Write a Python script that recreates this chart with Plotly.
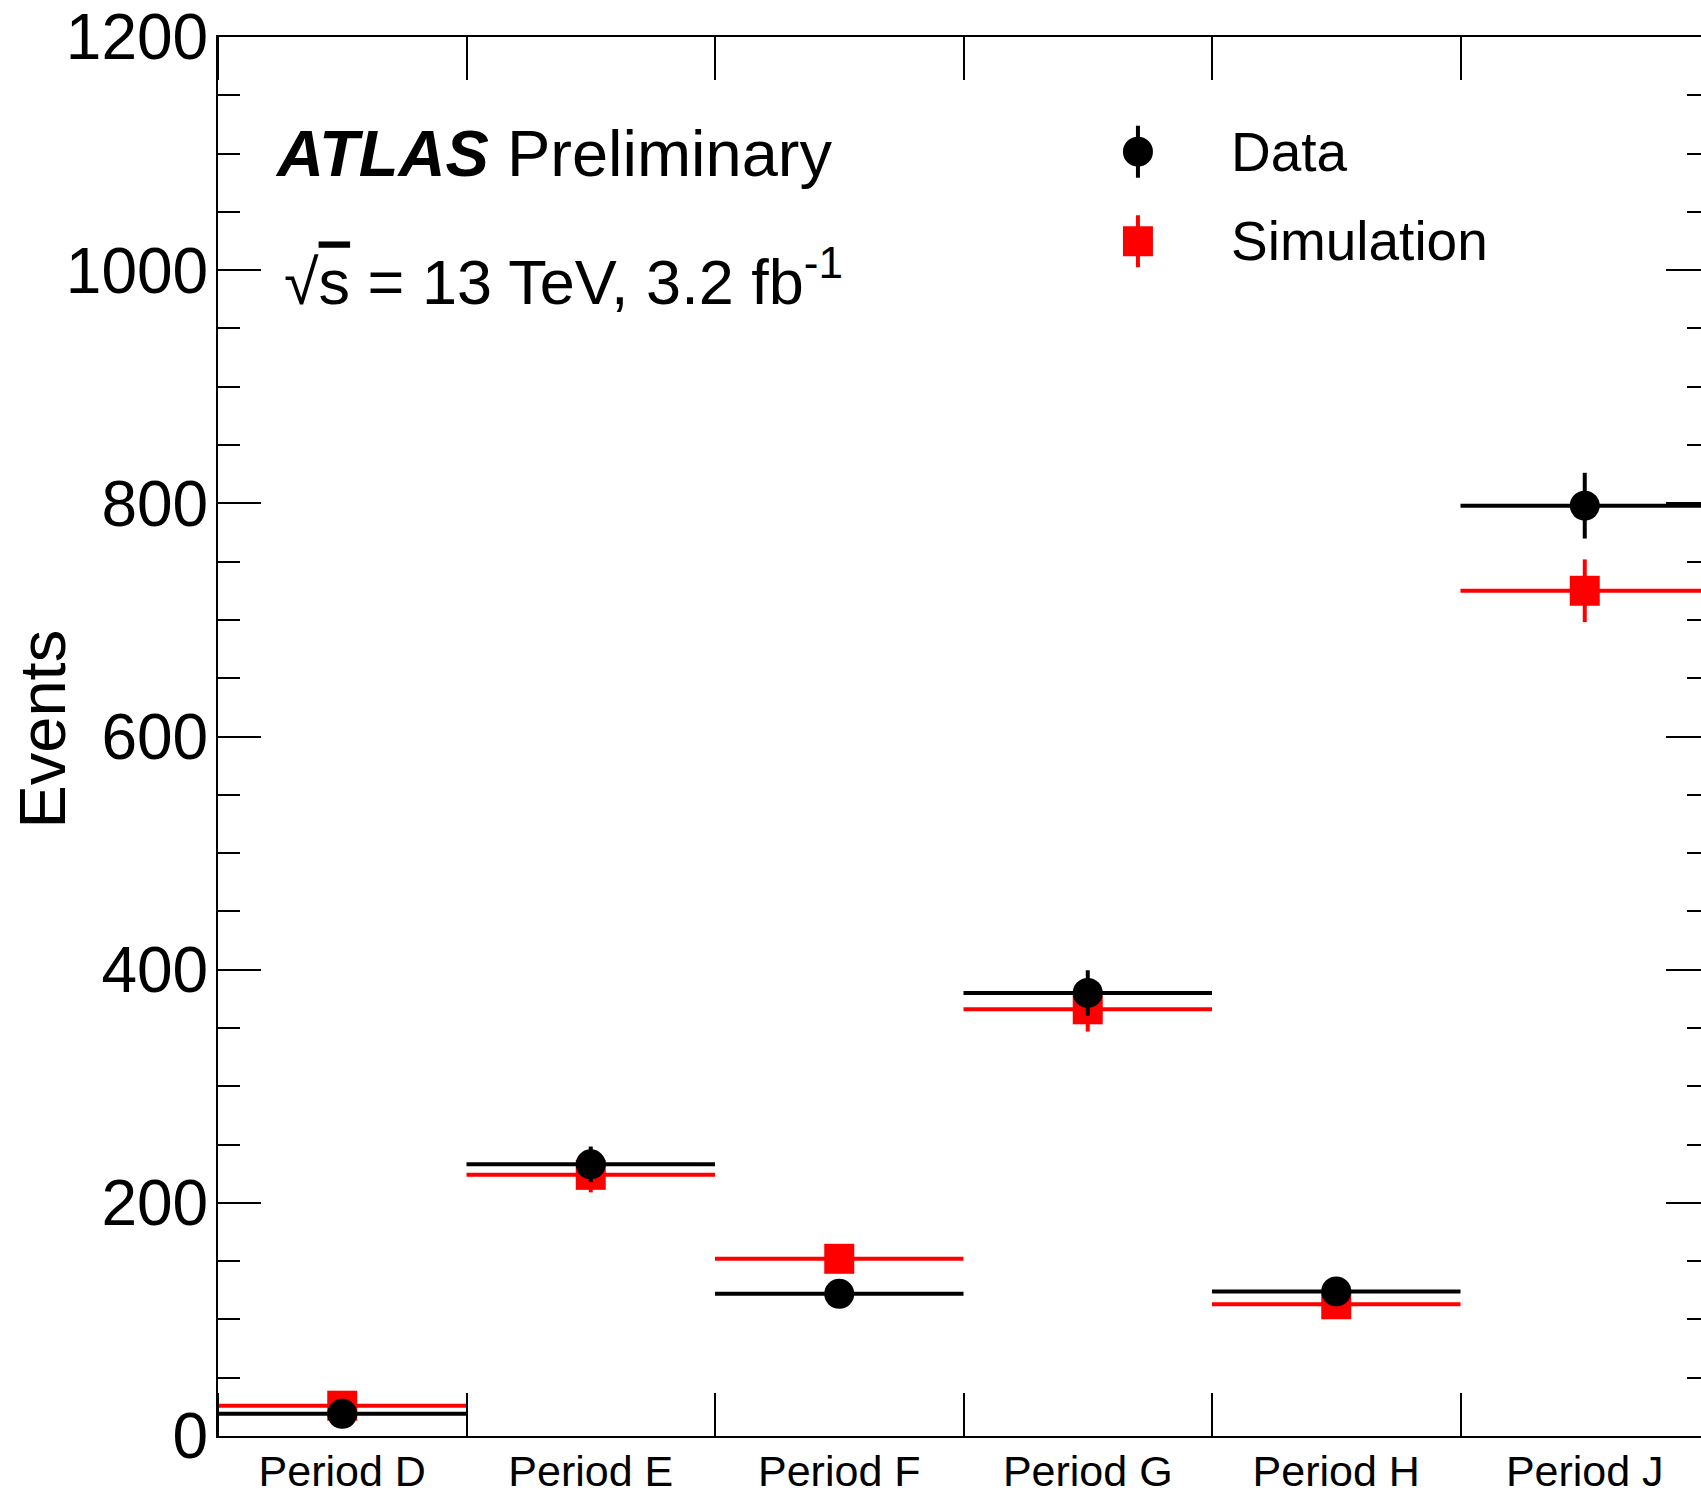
import plotly.graph_objects as go

# Event yields per data-taking period
periods = ["Period D", "Period E", "Period F", "Period G", "Period H", "Period J"]
bin_centers = [0.5, 1.5, 2.5, 3.5, 4.5, 5.5]
bin_half_width = [0.5, 0.5, 0.5, 0.5, 0.5, 0.5]

data_events = [19, 233, 122, 380, 124, 798]
data_err = [4.4, 15.3, 11.0, 19.5, 11.1, 28.2]

sim_events = [26, 224, 152, 366, 113, 725]
sim_err = [5.1, 15.0, 12.3, 19.1, 10.6, 26.9]

y_ticks = [0, 200, 400, 600, 800, 1000, 1200]
bin_edges = [0, 1, 2, 3, 4, 5, 6]

FONT = "Liberation Sans, Arial, Helvetica, sans-serif"
RED = "#ff0000"
BLACK = "#000000"

fig = go.Figure()

# Simulation: red squares with horizontal bin-width bars
fig.add_trace(go.Scatter(
    x=bin_centers, y=sim_events, mode="markers", name="Simulation",
    marker=dict(symbol="square", size=30, color=RED, line=dict(width=0)),
    error_x=dict(type="data", array=bin_half_width, symmetric=True,
                 width=0, thickness=4, color=RED),
    error_y=dict(type="data", array=sim_err, symmetric=True,
                 width=0, thickness=4, color=RED),
    showlegend=False, cliponaxis=False,
))

# Data: black circles drawn on top
fig.add_trace(go.Scatter(
    x=bin_centers, y=data_events, mode="markers", name="Data",
    marker=dict(symbol="circle", size=30, color=BLACK, line=dict(width=0)),
    error_x=dict(type="data", array=bin_half_width, symmetric=True,
                 width=0, thickness=4, color=BLACK),
    error_y=dict(type="data", array=data_err, symmetric=True,
                 width=0, thickness=4, color=BLACK),
    showlegend=False, cliponaxis=False,
))

# Hand-drawn legend swatches (marker + vertical error bar)
LEG_X = 0.617
LEG_Y_DATA = 0.918
LEG_Y_SIM = 0.854
shapes = []
for ly, col, kind in [(LEG_Y_DATA, BLACK, "circle"), (LEG_Y_SIM, RED, "rect")]:
    shapes.append(dict(
        type="line", xref="paper", yref="paper",
        xsizemode="pixel", ysizemode="pixel",
        xanchor=LEG_X, yanchor=ly, x0=0, x1=0, y0=-26, y1=26,
        line=dict(color=col, width=4), layer="above",
    ))
    shapes.append(dict(
        type=kind, xref="paper", yref="paper",
        xsizemode="pixel", ysizemode="pixel",
        xanchor=LEG_X, yanchor=ly, x0=-15, x1=15, y0=-15, y1=15,
        fillcolor=col, line=dict(width=0), layer="above",
    ))

annotations = [
    dict(text="Data", x=0.678, y=LEG_Y_DATA, xref="paper", yref="paper",
         xanchor="left", yanchor="middle", showarrow=False,
         font=dict(family=FONT, size=55, color=BLACK)),
    dict(text="Simulation", x=0.678, y=LEG_Y_SIM, xref="paper", yref="paper",
         xanchor="left", yanchor="middle", showarrow=False,
         font=dict(family=FONT, size=55, color=BLACK)),
    dict(text="<b><i>ATLAS</i></b> Preliminary", x=0.037, y=0.917,
         xref="paper", yref="paper", xanchor="left", yanchor="middle",
         showarrow=False, font=dict(family=FONT, size=65, color=BLACK)),
    dict(text="√<span style='text-decoration:overline'>s</span> = 13 TeV, 3.2 fb<sup>-1</sup>",
         x=0.043, y=0.828, xref="paper", yref="paper",
         xanchor="left", yanchor="middle", showarrow=False,
         font=dict(family=FONT, size=63, color=BLACK)),
    dict(text="Events", x=-0.118, y=0.505, xref="paper", yref="paper",
         xanchor="center", yanchor="middle", textangle=-90, showarrow=False,
         font=dict(family=FONT, size=65, color=BLACK)),
]

fig.update_layout(
    width=1760, height=1496,
    margin=dict(l=218, r=51, t=37, b=60, pad=0, autoexpand=False),
    paper_bgcolor="white", plot_bgcolor="white",
    font=dict(family=FONT, color=BLACK),
    shapes=shapes, annotations=annotations,
    showlegend=False,
)

fig.update_xaxes(
    range=[0, 6], tickmode="array", tickvals=bin_centers, ticktext=periods,
    ticks="", showgrid=False, zeroline=False, automargin=False,
    showline=True, linecolor=BLACK, linewidth=2, mirror="ticks",
    tickfont=dict(family=FONT, size=43, color=BLACK),
    ticklabelstandoff=-4,
    minor=dict(tickmode="array", tickvals=bin_edges, ticks="inside",
               ticklen=43, tickwidth=1.5, tickcolor=BLACK, showgrid=False),
)

fig.update_yaxes(
    range=[0, 1200], tickmode="array", tickvals=y_ticks,
    ticks="inside", ticklen=43, tickwidth=1.5, tickcolor=BLACK,
    showgrid=False, zeroline=False, automargin=False,
    showline=True, linecolor=BLACK, linewidth=2, mirror="ticks",
    tickfont=dict(family=FONT, size=64, color=BLACK),
    ticklabelstandoff=-5,
    minor=dict(tick0=0, dtick=50, ticks="inside", ticklen=22,
               tickwidth=1.5, tickcolor=BLACK, showgrid=False),
)

fig.write_html(
    "out.html",
    post_script="document.documentElement.style.overflow='hidden';"
                "document.body.style.overflow='hidden';"
                "document.body.style.margin='0';",
)
